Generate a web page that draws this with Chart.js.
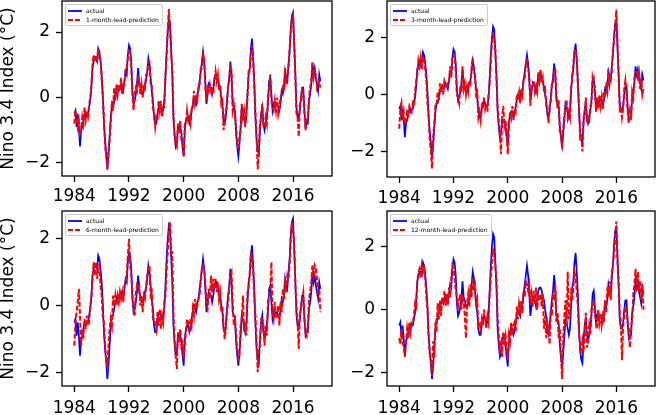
<!DOCTYPE html>
<html>
<head>
<meta charset="utf-8">
<script src="https://cdn.jsdelivr.net/npm/chart.js@4.4.0/dist/chart.umd.min.js"></script>
<style>
    html, body { margin: 0; padding: 0; background: #ffffff; }
    #wrap { position: relative; width: 658px; height: 415px; overflow: hidden; }
    #wrap canvas { position: absolute; }
    .legend {
        position: absolute;
        background: rgba(255, 255, 255, 0.8);
        border: 1px solid #cccccc;
        border-radius: 2px;
        padding: 1px 3px 1px 2px;
        font: 6px "DejaVu Sans", sans-serif;
        color: #000000;
    }
    .legend-row { display: flex; align-items: center; height: 9px; white-space: nowrap; }
    .legend-row svg { margin-right: 4px; }
</style>
</head>
<body>
<div id="wrap"></div>
<script>
// Nino 3.4 index, one value every two months (Jan, Mar, May, Jul, Sep, Nov), Jan 1984 .. Jan 2020
const startYear = 1984;
const monthsPerStep = 2;
const xTicks = [1984, 1992, 2000, 2008, 2016];
const yTicks = [-2, 0, 2];

const actual = [
    -0.5, -0.4, -0.9, -0.5, -0.9, -1.5,
    -1.0, -0.9, -0.7, -0.5, -0.6, -0.5,
    -0.5, -0.3, -0.1, 0.3, 0.9, 1.1,
    1.2, 1.2, 1.1, 1.5, 1.4, 1.1,
    0.7, 0.1, -0.8, -1.3, -1.7, -2.2,
    -1.8, -1.2, -0.6, -0.3, -0.3, -0.1,
    0.1, 0.2, 0.3, 0.2, 0.3, 0.4,
    0.3, 0.2, 0.5, 0.8, 0.7, 1.3,
    1.6, 1.5, 1.1, 0.2, -0.2, -0.1,
    0.1, 0.4, 0.9, 0.4, 0.3, 0.1,
    0.1, 0.2, 0.4, 0.5, 0.8, 1.2,
    1.0, 0.6, 0.2, -0.1, -0.6, -0.8,
    -0.8, -0.5, -0.3, -0.2, -0.3, -0.4,
    -0.4, -0.1, 0.6, 1.4, 2.0, 2.4,
    2.3, 1.5, 0.7, -0.6, -1.1, -1.5,
    -1.4, -0.9, -0.9, -0.9, -1.1, -1.5,
    -1.8, -1.0, -0.7, -0.6, -0.6, -0.8,
    -0.7, -0.4, -0.2, 0.0, -0.1, -0.2,
    0.1, 0.2, 0.5, 0.8, 1.1, 1.4,
    1.1, 0.5, -0.2, 0.1, 0.4, 0.3,
    0.3, 0.1, 0.3, 0.6, 0.7, 0.7,
    0.6, 0.4, 0.3, 0.0, -0.2, -0.7,
    -0.8, -0.6, -0.1, 0.3, 0.6, 1.1,
    0.7, -0.2, -0.3, -0.4, -1.1, -1.5,
    -1.8, -1.4, -0.9, -0.3, -0.4, -0.6,
    -0.8, -0.6, 0.1, 0.7, 0.9, 1.5,
    1.8, 1.2, 0.5, -0.6, -1.3, -1.6,
    -1.7, -1.0, -0.5, -0.3, -0.8, -1.0,
    -0.8, -0.6, -0.2, 0.5, 0.6, 0.1,
    -0.4, -0.2, -0.3, -0.2, -0.2, -0.3,
    -0.4, -0.2, 0.2, 0.1, 0.3, 0.8,
    0.6, 0.5, 1.0, 1.4, 2.1, 2.5,
    2.6, 1.7, 0.8, -0.3, -0.6, -0.6,
    -0.4, 0.0, 0.3, 0.3, -0.4, -0.9,
    -0.8, -0.8, -0.1, 0.1, 0.4, 1.0,
    0.7, 0.9, 0.6, 0.4, 0.2, 0.7,
    0.5
];

const lead1 = [
    -0.8, -0.4, -0.6, -0.9, -0.7, -1.1,
    -1.0, -0.6, -0.8, -0.3, -0.7, -0.5,
    -0.6, -0.2, 0.0, 0.4, 1.0, 1.3,
    1.1, 1.3, 1.2, 1.5, 1.2, 1.2,
    0.6, 0.0, -0.6, -1.5, -1.8, -2.2,
    -1.6, -1.3, -0.8, -0.1, -0.4, 0.3,
    -0.1, 0.4, 0.1, 0.4, 0.2, 0.6,
    0.1, 0.4, 0.4, 0.9, 0.9, 1.2,
    1.5, 1.3, 0.9, 0.1, -0.4, 0.1,
    0.3, 0.2, 0.7, 0.5, 0.1, 0.4,
    0.0, 0.4, 0.3, 0.7, 0.7, 1.1,
    1.1, 0.4, 0.4, -0.3, -0.5, -0.9,
    -0.6, -0.7, -0.1, -0.4, -0.1, -0.6,
    -0.3, -0.3, 0.7, 1.2, 2.1, 2.7,
    2.1, 1.3, 0.9, -0.5, -1.2, -1.4,
    -1.5, -0.8, -1.1, -0.7, -1.3, -1.4,
    -1.8, -0.8, -0.8, -0.4, -0.7, -0.6,
    -0.8, -0.3, -0.3, 0.2, -0.2, 0.0,
    -0.1, 0.4, 0.4, 0.9, 0.9, 1.3,
    1.2, 0.3, -0.1, 0.3, 0.2, 0.4,
    0.2, 0.3, 0.1, 0.5, 0.8, 0.5,
    0.7, 0.2, 0.4, -0.2, -0.1, -1.0,
    -0.7, -0.4, -0.3, 0.4, 0.5, 1.0,
    0.8, -0.4, -0.2, -0.5, -0.9, -1.4,
    -1.6, -1.2, -1.0, -0.2, -0.6, -0.4,
    -0.9, -0.4, 0.0, 0.8, 0.8, 1.3,
    1.6, 1.1, 0.3, -0.5, -1.2, -2.2,
    -1.5, -0.8, -0.6, -0.2, -0.9, -0.9,
    -0.6, -0.8, 0.0, 0.3, 0.7, -0.1,
    -0.3, -0.4, -0.1, -0.4, 0.0, -0.5,
    -0.3, 0.0, 0.1, 0.3, 0.2, 0.9,
    0.5, 0.7, 0.9, 1.5, 2.0, 2.4,
    2.5, 1.6, 0.6, -0.5, -0.6, -1.2,
    -0.2, -0.1, 0.3, 0.1, -0.5, -1.0,
    -0.7, -0.6, 0.0, 0.3, 0.5, 1.1,
    0.6, 0.8, 0.7, 0.3, 0.4, 0.5,
    0.3
];

const lead3 = [
    -1.2, -0.5, -0.3, -0.9, -0.6, -1.0,
    -0.9, -0.6, -0.7, -0.4, -0.5, -0.6,
    -0.3, -0.4, 0.1, 0.5, 0.7, 1.2,
    1.0, 1.3, 0.9, 1.3, 1.3, 0.9,
    0.5, -0.3, -0.7, -1.6, -2.0, -2.6,
    -1.5, -1.0, -0.4, -0.4, 0.1, -0.2,
    0.4, 0.1, 0.4, 0.0, 0.5, 0.4,
    0.2, 0.4, 0.4, 1.0, 0.6, 1.3,
    1.3, 1.4, 0.8, 0.0, -0.1, -0.3,
    0.3, 0.2, 1.0, 0.2, 0.4, 0.0,
    0.3, 0.1, 0.5, 0.4, 1.0, 1.3,
    0.8, 0.7, 0.0, 0.1, -0.8, -0.6,
    -0.9, -0.4, -0.5, -0.1, -0.5, -0.3,
    -0.6, 0.0, 0.4, 1.2, 1.8, 2.1,
    2.0, 1.6, 0.5, -0.4, -0.9, -1.4,
    -2.1, -0.8, -0.4, -1.1, -0.9, -1.3,
    -2.1, -1.1, -0.6, -0.8, -0.4, -0.9,
    -0.5, -0.6, 0.0, -0.1, 0.1, -0.3,
    0.2, 0.0, 0.6, 0.6, 1.1, 1.2,
    0.9, 0.7, -0.4, 0.2, 0.3, 0.5,
    0.1, 0.3, 0.1, 0.8, 0.5, 0.9,
    0.4, 0.6, 0.1, 0.2, -0.4, -0.6,
    -1.0, -0.4, -0.3, 0.4, 0.4, 0.9,
    0.9, 0.0, -0.5, -0.2, -1.3, -1.3,
    -1.9, -1.2, -0.7, -0.5, -0.2, -0.8,
    -0.6, -0.8, 0.3, 0.5, 1.1, 1.6,
    1.5, 1.3, 0.3, -0.4, -1.5, -1.4,
    -2.0, -0.8, -0.7, -0.1, -1.0, -0.8,
    -0.9, -0.4, -0.3, 0.6, 0.4, 0.3,
    -0.6, -0.1, -0.5, 0.0, -0.4, -0.1,
    -0.5, 0.1, 0.0, 0.3, 0.1, 0.9,
    0.4, 0.7, 0.8, 1.6, 1.9, 2.4,
    3.0, 1.9, 0.6, -0.5, -0.4, -0.8,
    -0.5, 0.2, 0.5, 0.1, -0.6, -1.0,
    -0.6, -0.9, 0.1, -0.1, 0.6, 0.8,
    0.8, 0.6, 0.8, 0.2, 0.5, 0.0,
    0.2
];

const lead6 = [
    -1.2, -0.5, -0.2, 0.1, 0.5, -0.3,
    -1.2, -0.8, -0.9, -0.4, -0.7, -0.3,
    -0.6, -0.5, 0.0, 0.2, 0.8, 1.3,
    0.9, 1.3, 0.8, 1.1, 1.2, 0.6,
    0.3, -0.3, -0.5, -1.2, -1.6, -1.8,
    -1.2, -0.7, -0.4, -0.6, 0.3, 0.0,
    0.3, 0.0, 0.3, 0.1, 0.4, 0.2,
    0.4, 0.1, 0.6, 0.7, 0.9, 1.5,
    2.0, 1.2, 0.9, 0.3, 0.0, -0.3,
    0.4, 0.6, 0.5, 0.6, 0.0, 0.3,
    -0.2, 0.3, 0.2, 0.6, 0.9, 1.0,
    1.2, 0.3, 0.4, -0.4, -0.5, -0.5,
    -0.7, -0.2, -0.6, -0.1, -0.7, -0.3,
    -0.5, 0.1, 0.3, 1.0, 1.6, 2.2,
    2.5, 1.6, 1.6, -0.2, -1.0, -1.5,
    -1.9, -0.8, -1.0, -0.7, -1.2, -1.1,
    -1.6, -1.2, -0.8, -0.4, -0.5, -0.7,
    -0.4, -0.6, -0.1, -0.3, 0.2, -0.1,
    0.0, 0.2, 0.3, 0.7, 1.1, 1.2,
    1.1, 0.7, 0.0, -0.1, 0.5, 0.2,
    0.9, 0.4, 0.8, 0.5, 0.8, 0.4,
    0.7, 0.2, 0.4, -0.2, 0.0, -0.6,
    -1.0, -0.7, -0.2, 0.1, 0.5, 0.9,
    1.0, 0.1, -0.6, -0.3, -0.9, -1.3,
    -1.6, -1.5, -0.6, -0.4, 0.3, -0.8,
    -0.5, -0.9, 0.4, 0.5, 1.0, 1.6,
    1.3, 1.0, 0.2, -0.3, -1.1, -2.0,
    -1.3, -1.2, -0.4, -0.4, -0.6, -1.2,
    -0.6, -0.9, 0.1, 0.3, 0.5, 1.3,
    -0.2, -0.4, 0.1, -0.4, -0.3, 0.0,
    -0.6, 0.1, -0.2, 0.5, 0.2, 0.8,
    0.4, 0.9, 0.8, 1.2, 2.0, 2.5,
    2.2, 1.9, 0.6, 0.0, -0.5, -1.3,
    -0.3, -0.1, 0.2, 0.4, -0.4, -0.8,
    -0.9, -0.6, 0.2, 0.4, 0.7, 1.2,
    0.9, 1.2, 1.1, 0.8, 0.2, 0.5,
    -0.2
];

const lead12 = [
    -0.9, -1.1, -0.6, -1.0, -1.2, -1.5,
    -1.0, -0.6, -0.9, -0.4, -0.7, -0.4,
    -0.4, -0.2, 0.2, 0.1, 0.9, 1.2,
    1.3, 1.0, 1.4, 1.2, 1.3, 1.0,
    0.4, 0.0, -0.9, -1.4, -1.6, -2.1,
    -1.0, -1.5, -0.4, -0.7, 0.2, -0.3,
    0.3, -0.2, 0.4, 0.2, 0.6, 0.1,
    0.5, 0.2, 0.7, 0.4, 1.0, 1.4,
    1.3, 1.0, 0.6, 0.4, 0.1, 0.3,
    0.5, 0.0, 0.4, 0.3, -0.2, -0.9,
    0.2, 0.5, 0.1, 0.8, 0.4, 1.0,
    0.7, 0.8, 0.1, 0.3, -0.5, -0.4,
    -0.6, -0.3, -0.5, 0.0, -0.3, -0.6,
    -0.2, -0.4, 0.5, 1.0, 1.5, 1.9,
    1.8, 1.4, 1.0, -0.2, -0.8, -1.3,
    -1.1, -1.5, -0.7, -1.0, -0.8, -1.2,
    -1.6, -0.8, -1.0, -0.4, -0.8, -0.5,
    -0.4, -0.7, 0.1, -0.3, 0.2, 0.0,
    0.3, -0.1, 0.6, 0.4, 0.9, 0.8,
    0.6, 0.8, 0.2, 0.5, 0.1, 0.6,
    0.2, 0.7, 0.0, 0.4, 0.3, 0.5,
    0.1, 0.5, -0.6, -0.2, -0.9, -0.4,
    -0.6, -1.1, 0.0, -0.2, 0.5, 0.4,
    0.8, -0.4, -0.1, -0.9, -0.6, -1.4,
    -2.2, -1.0, -0.2, 0.3, -0.5, 1.2,
    -0.3, 0.0, 0.5, 0.3, 0.7, 1.2,
    1.0, 0.6, 0.1, -0.8, -1.1, -1.4,
    -1.0, -1.3, -0.8, -0.1, -1.2, -0.9,
    -0.5, -0.8, 0.0, 0.2, 0.3, -0.2,
    -0.3, -0.6, 0.0, -0.4, -0.1, -0.5,
    -0.2, -0.4, 0.3, -0.1, 0.6, 0.5,
    0.9, 0.3, 1.2, 1.4, 1.8, 2.3,
    2.8, 1.5, 0.9, -0.1, -0.4, -1.6,
    -0.5, -0.2, 0.1, 0.0, -0.4, -0.6,
    -1.2, -0.6, -0.3, 0.5, 0.8, 1.3,
    0.6, 1.2, 0.6, 0.9, 0.3, 0.8,
    0.0
];

// one entry per subplot: canvas placement and axis box sizes
const panels = [
    { label: '1-month-lead-prediction', pred: lead1, left: 0, top: 0, width: 336, height: 208,
      yAxisWidth: 62, xAxisHeight: 32, padTop: 1, padRight: 4, tickPad: 4, yMin: -2.4, yMax: 2.95, yTitle: true },
    { label: '3-month-lead-prediction', pred: lead3, left: 336, top: 0, width: 322, height: 208,
      yAxisWidth: 51, xAxisHeight: 31, padTop: 1, padRight: 3, tickPad: 5, yMin: -2.9, yMax: 3.3, yTitle: false },
    { label: '6-month-lead-prediction', pred: lead6, left: 0, top: 208, width: 336, height: 207,
      yAxisWidth: 62, xAxisHeight: 29, padTop: 3, padRight: 4, tickPad: 6, yMin: -2.41, yMax: 2.83, yTitle: true },
    { label: '12-month-lead-prediction', pred: lead12, left: 336, top: 208, width: 322, height: 207,
      yAxisWidth: 51, xAxisHeight: 29, padTop: 3, padRight: 3, tickPad: 6, yMin: -2.42, yMax: 3.13, yTitle: false }
];

const FONT = 'DejaVu Sans';
Chart.defaults.font.family = FONT;
Chart.defaults.color = '#000000';

// black box round the plot area, like matplotlib spines
const framePlugin = {
    id: 'frame',
    afterDraw(chart) {
        const { ctx, chartArea: a } = chart;
        ctx.save();
        ctx.strokeStyle = '#000000';
        ctx.lineWidth = 1.3;
        ctx.strokeRect(a.left, a.top, a.right - a.left, a.bottom - a.top);
        ctx.restore();
    }
};

function toPoints(values) {
    return values.map((y, i) => ({ x: startYear + i * monthsPerStep / 12, y: y }));
}

function formatY(v) {
    return v < 0 ? '\u2212' + Math.abs(v) : String(v);
}

function buildLegend(chart, panel) {
    const wrap = document.getElementById('wrap');
    const box = document.createElement('div');
    box.className = 'legend';
    box.style.left = (panel.left + chart.chartArea.left + 3) + 'px';
    box.style.top = (panel.top + chart.chartArea.top + 3) + 'px';
    chart.data.datasets.forEach(ds => {
        const row = document.createElement('div');
        row.className = 'legend-row';
        const dash = ds.borderDash && ds.borderDash.length ? ds.borderDash.join(',') : 'none';
        row.innerHTML =
            '<svg width="14" height="4"><line x1="0" y1="2" x2="14" y2="2" stroke="' + ds.borderColor +
            '" stroke-width="1.8" stroke-dasharray="' + dash + '"/></svg><span>' + ds.label + '</span>';
        box.appendChild(row);
    });
    wrap.appendChild(box);
}

function drawPanel(panel) {
    const wrap = document.getElementById('wrap');
    const canvas = document.createElement('canvas');
    canvas.width = panel.width;
    canvas.height = panel.height;
    canvas.style.left = panel.left + 'px';
    canvas.style.top = panel.top + 'px';
    wrap.appendChild(canvas);

    const chart = new Chart(canvas.getContext('2d'), {
        type: 'line',
        data: {
            datasets: [
                {
                    label: 'actual',
                    data: toPoints(actual),
                    borderColor: '#0000ff',
                    borderWidth: 1.7,
                    pointRadius: 0,
                    tension: 0,
                    order: 1
                },
                {
                    // lower order is painted last, so the prediction sits on top
                    label: panel.label,
                    data: toPoints(panel.pred),
                    borderColor: '#ff0000',
                    borderWidth: 2,
                    borderDash: [5, 2],
                    pointRadius: 0,
                    tension: 0,
                    order: 0
                }
            ]
        },
        options: {
            responsive: false,
            animation: false,
            devicePixelRatio: 1,
            layout: { padding: { left: 0, top: panel.padTop, right: panel.padRight, bottom: 0 } },
            plugins: {
                legend: { display: false },
                tooltip: { enabled: false }
            },
            scales: {
                x: {
                    type: 'linear',
                    min: 1982.2,
                    max: 2021.7,
                    border: { display: false },
                    grid: { drawOnChartArea: false, drawTicks: true, tickLength: 6, tickColor: '#000000', tickWidth: 1.3 },
                    ticks: {
                        padding: panel.tickPad,
                        maxRotation: 0,
                        font: { size: 17 },
                        callback: v => String(v)
                    },
                    afterBuildTicks: scale => { scale.ticks = xTicks.map(v => ({ value: v })); },
                    afterFit: scale => {
                        scale.height = panel.xAxisHeight;
                        scale.paddingLeft = 0;
                        scale.paddingRight = 0;
                    }
                },
                y: {
                    min: panel.yMin,
                    max: panel.yMax,
                    border: { display: false },
                    grid: { drawOnChartArea: false, drawTicks: true, tickLength: 6, tickColor: '#000000', tickWidth: 1.3 },
                    ticks: {
                        padding: 6,
                        font: { size: 17 },
                        callback: v => formatY(v)
                    },
                    title: {
                        display: panel.yTitle,
                        text: 'Nino 3.4 Index (°C)',
                        font: { size: 17, lineHeight: 1.0 },
                        padding: 0
                    },
                    afterBuildTicks: scale => { scale.ticks = yTicks.map(v => ({ value: v })); },
                    afterFit: scale => {
                        scale.width = panel.yAxisWidth;
                        scale.paddingTop = 0;
                        scale.paddingBottom = 0;
                    }
                }
            }
        },
        plugins: [framePlugin]
    });

    buildLegend(chart, panel);
}

panels.forEach(drawPanel);
</script>
</body>
</html>
